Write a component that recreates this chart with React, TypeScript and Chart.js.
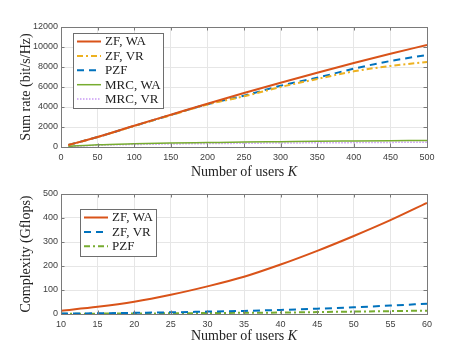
import React, { useEffect, useRef } from 'react';
import { Chart, registerables } from 'chart.js';
Chart.register(...registerables);

// ---------- Data: top chart (sum rate) ----------
const usersTop = [10, 50, 100, 150, 200, 250, 300, 350, 400, 450, 500];
const zfWA = [200, 1000, 2130, 3230, 4330, 5400, 6430, 7430, 8400, 9330, 10200];
const zfVR = [200, 990, 2100, 3180, 4250, 5070, 6000, 6800, 7570, 8100, 8500];
const pzf = [200, 1000, 2110, 3200, 4280, 5130, 6130, 6930, 7830, 8600, 9200];
const mrcWA = [60, 220, 320, 390, 440, 490, 530, 570, 600, 630, 660];
const mrcVR = [40, 170, 250, 300, 340, 370, 400, 420, 440, 460, 480];
const topXTicks = [0, 50, 100, 150, 200, 250, 300, 350, 400, 450, 500];
const topYTicks = [0, 2000, 4000, 6000, 8000, 10000, 12000];

// ---------- Data: bottom chart (complexity) ----------
const usersBot = [10, 15, 20, 25, 30, 35, 40, 45, 50, 55, 60];
const cZfWA = [14, 30, 51, 80, 115, 155, 206, 263, 325, 391, 463];
const cZfVR = [2, 3, 5, 7, 10, 13, 17, 22, 28, 35, 43];
const cPzf = [1, 1.5, 2, 3, 4, 5, 6, 8, 10, 12, 14];
const botXTicks = [10, 15, 20, 25, 30, 35, 40, 45, 50, 55, 60];
const botYTicks = [0, 100, 200, 300, 400, 500];

const ORANGE = '#D95319';
const YELLOW = '#EDB120';
const BLUE = '#0072BD';
const GREEN = '#77AC30';
const LAVENDER = '#C99BF5';

const SERIF = '"Liberation Serif", "DejaVu Serif", serif';
const SANS = '"Liberation Sans", Arial, sans-serif';

type Series = { label: string; xs: number[]; ys: number[]; color: string; dash: number[]; width: number };

function pts(xs: number[], ys: number[]) {
  return xs.map((x, i) => ({ x, y: ys[i] }));
}

function framePlugin(cfg: {
  yTitle: string;
  yTitleY: number;
  xTitleY: number;
  legend: { x: number; y: number; w: number; h: number; rowH: number; items: Series[] };
}) {
  return {
    id: 'frameDeco',
    afterDraw(chart: any) {
      const ctx = chart.ctx as CanvasRenderingContext2D;
      const a = chart.chartArea;
      const xs = chart.scales.x;
      const ys = chart.scales.y;
      ctx.save();
      // frame
      ctx.strokeStyle = '#7a7a7a';
      ctx.lineWidth = 1;
      ctx.setLineDash([]);
      ctx.strokeRect(Math.round(a.left) + 0.5, Math.round(a.top) + 0.5, Math.round(a.right - a.left), Math.round(a.bottom - a.top));
      // inward ticks
      const tl = 3.5;
      ctx.beginPath();
      xs.ticks.forEach((t: any) => {
        const px = Math.round(xs.getPixelForValue(t.value)) + 0.5;
        ctx.moveTo(px, a.bottom);
        ctx.lineTo(px, a.bottom - tl);
        ctx.moveTo(px, a.top);
        ctx.lineTo(px, a.top + tl);
      });
      ys.ticks.forEach((t: any) => {
        const py = Math.round(ys.getPixelForValue(t.value)) + 0.5;
        ctx.moveTo(a.left, py);
        ctx.lineTo(a.left + tl, py);
        ctx.moveTo(a.right, py);
        ctx.lineTo(a.right - tl, py);
      });
      ctx.stroke();

      // x title with italic K
      ctx.fillStyle = '#222';
      ctx.textBaseline = 'middle';
      const f1 = `14px ${SERIF}`;
      const f2 = `italic 14px ${SERIF}`;
      ctx.font = f1;
      const s1 = 'Number of users ';
      const w1 = ctx.measureText(s1).width;
      ctx.font = f2;
      const w2 = ctx.measureText('K').width;
      const cx = (a.left + a.right) / 2;
      const sx = cx - (w1 + w2) / 2;
      ctx.font = f1;
      ctx.textAlign = 'left';
      ctx.fillText(s1, sx, cfg.xTitleY);
      ctx.font = f2;
      ctx.fillText('K', sx + w1, cfg.xTitleY);

      // y title
      ctx.save();
      ctx.translate(26, cfg.yTitleY);
      ctx.rotate(-Math.PI / 2);
      ctx.font = f1;
      ctx.textAlign = 'center';
      ctx.fillText(cfg.yTitle, 0, 0);
      ctx.restore();

      // legend
      const L = cfg.legend;
      ctx.fillStyle = '#fff';
      ctx.fillRect(L.x, L.y, L.w, L.h);
      ctx.strokeStyle = '#6e6e6e';
      ctx.lineWidth = 1;
      ctx.strokeRect(L.x + 0.5, L.y + 0.5, L.w, L.h);
      L.items.forEach((it, i) => {
        const yy = L.y + 8.5 + i * L.rowH;
        ctx.strokeStyle = it.color;
        ctx.lineWidth = it.width;
        ctx.setLineDash(it.dash);
        ctx.beginPath();
        ctx.moveTo(L.x + 4, yy);
        ctx.lineTo(L.x + 28, yy);
        ctx.stroke();
        ctx.setLineDash([]);
        ctx.fillStyle = '#222';
        ctx.font = `13px ${SERIF}`;
        ctx.textAlign = 'left';
        ctx.textBaseline = 'middle';
        ctx.fillText(it.label, L.x + 32, yy + 0.5);
      });
      ctx.restore();
    },
  };
}

function buildConfig(
  series: Series[],
  xMin: number,
  xMax: number,
  xTicks: number[],
  yMax: number,
  yTicks: number[],
  padTop: number,
  xAxisH: number,
  plugin: any
): any {
  return {
    type: 'line',
    data: {
      datasets: series.map((s) => ({
        label: s.label,
        data: pts(s.xs, s.ys),
        borderColor: s.color,
        borderWidth: s.width,
        borderDash: s.dash,
        pointRadius: 0,
        fill: false,
        tension: 0.2,
        cubicInterpolationMode: 'monotone',
      })),
    },
    options: {
      responsive: false,
      animation: false,
      layout: { padding: { top: padTop, right: 44, left: 0, bottom: 0 } },
      plugins: { legend: { display: false }, tooltip: { enabled: false } },
      scales: {
        x: {
          type: 'linear',
          min: xMin,
          max: xMax,
          afterFit: (s: any) => {
            s.height = xAxisH;
          },
          afterBuildTicks: (s: any) => {
            s.ticks = xTicks.map((v) => ({ value: v }));
          },
          grid: { color: '#e6e6e6', drawTicks: false },
          border: { display: false },
          ticks: {
            font: { family: SANS, size: 9 },
            color: '#404040',
            padding: 5,
            maxRotation: 0,
            callback: (v: any) => String(v),
          },
        },
        y: {
          type: 'linear',
          min: 0,
          max: yMax,
          afterFit: (s: any) => {
            s.width = 61;
          },
          afterBuildTicks: (s: any) => {
            s.ticks = yTicks.map((v) => ({ value: v }));
          },
          grid: { color: '#e6e6e6', drawTicks: false },
          border: { display: false },
          ticks: {
            font: { family: SANS, size: 9 },
            color: '#404040',
            padding: 3,
            callback: (v: any) => String(v),
          },
        },
      },
    },
    plugins: [plugin],
  };
}

export default function App() {
  const topRef = useRef<HTMLCanvasElement>(null);
  const botRef = useRef<HTMLCanvasElement>(null);

  useEffect(() => {
    const topSeries: Series[] = [
      { label: 'ZF, WA', xs: usersTop, ys: zfWA, color: ORANGE, dash: [], width: 2 },
      { label: 'ZF, VR', xs: usersTop, ys: zfVR, color: YELLOW, dash: [6, 3, 2, 3], width: 2 },
      { label: 'PZF', xs: usersTop, ys: pzf, color: BLUE, dash: [7, 5], width: 2 },
      { label: 'MRC, WA', xs: usersTop, ys: mrcWA, color: GREEN, dash: [], width: 1.5 },
      { label: 'MRC, VR', xs: usersTop, ys: mrcVR, color: LAVENDER, dash: [1.5, 1.5], width: 1.5 },
    ];
    const botSeries: Series[] = [
      { label: 'ZF, WA', xs: usersBot, ys: cZfWA, color: ORANGE, dash: [], width: 2 },
      { label: 'ZF, VR', xs: usersBot, ys: cZfVR, color: BLUE, dash: [7, 5], width: 2 },
      { label: 'PZF', xs: usersBot, ys: cPzf, color: GREEN, dash: [6, 3, 2, 3], width: 2 },
    ];

    const c1 = new Chart(
      topRef.current!,
      buildConfig(
        topSeries,
        0,
        500,
        topXTicks,
        12000,
        topYTicks,
        27,
        33,
        framePlugin({
          yTitle: 'Sum rate (bit/s/Hz)',
          yTitleY: 87,
          xTitleY: 172,
          legend: { x: 73, y: 33, w: 90, h: 75, rowH: 14.4, items: topSeries },
        })
      )
    );
    const c2 = new Chart(
      botRef.current!,
      buildConfig(
        botSeries,
        10,
        60,
        botXTicks,
        500,
        botYTicks,
        14,
        39,
        framePlugin({
          yTitle: 'Complexity (Gflops)',
          yTitleY: 74,
          xTitleY: 156,
          legend: { x: 80, y: 29, w: 76, h: 47, rowH: 14.4, items: botSeries },
        })
      )
    );
    return () => {
      c1.destroy();
      c2.destroy();
    };
  }, []);

  return (
    <div style={{ position: 'absolute', left: 0, top: 0, width: 471, height: 353, background: '#fff' }}>
      <canvas ref={topRef} width={471} height={180} style={{ position: 'absolute', left: 0, top: 0 }} />
      <canvas ref={botRef} width={471} height={173} style={{ position: 'absolute', left: 0, top: 180 }} />
    </div>
  );
}
